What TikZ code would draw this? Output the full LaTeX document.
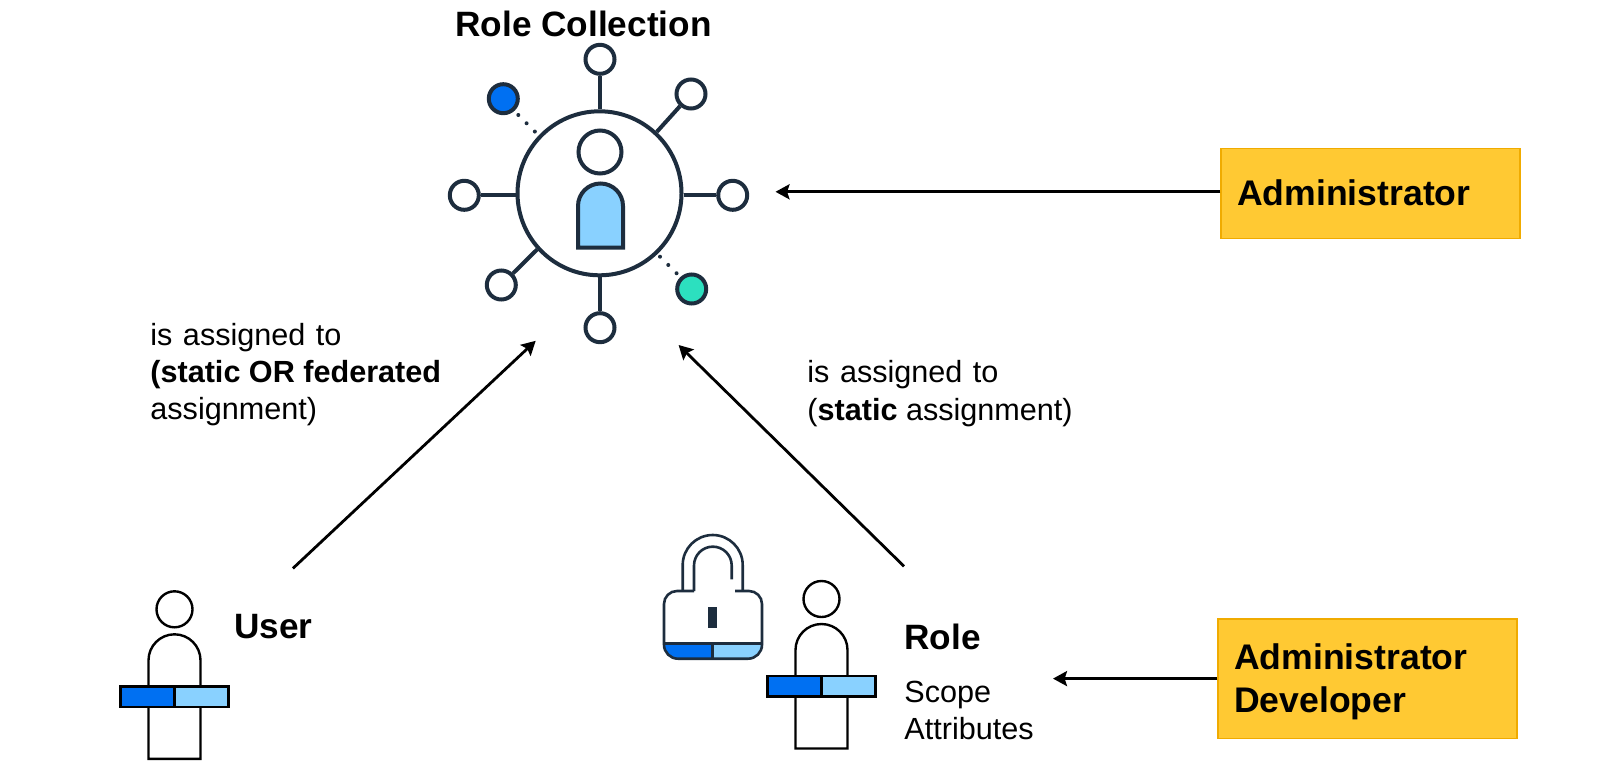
\documentclass[tikz,border=0pt]{standalone}
\usepackage{fontspec}
\setmainfont{Liberation Sans}
\usetikzlibrary{arrows.meta}
\definecolor{ink}{HTML}{1D2D3E}
\definecolor{sapblue}{HTML}{0070F2}
\definecolor{sky}{HTML}{89D1FF}
\definecolor{teal}{HTML}{2CE0BF}
\definecolor{gold}{HTML}{FFC933}
\definecolor{goldline}{HTML}{F0AB00}
\newcommand{\personicon}[3]{%
  \draw[bodyline] (#1-26,#2+124.5) -- (#1-26,#2+26) arc[start angle=180,end angle=360,radius=26] -- (#1+26,#2+124.5) -- cycle;
  \node[headcirc] (#3head) at (#1,#2-25) {};
  \draw[bodyline,fill=sapblue] (#1-54,#2+52) rectangle (#1,#2+72.5);
  \draw[bodyline,fill=sky] (#1,#2+52) rectangle (#1+54,#2+72.5);
}
\tikzset{
  x=0.5pt,y=-0.5pt,
  bodyline/.style={draw=black,line width=1.2pt,fill=white},
  headcirc/.style={circle,draw=black,line width=1.2pt,fill=white,minimum size=18pt,inner sep=0pt},
  sat/.style={circle,draw=ink,line width=2pt,fill=white,minimum size=14.5pt,inner sep=0pt},
  spoke/.style={draw=ink,line width=2pt},
  dots/.style={draw=ink,line width=2pt,line cap=round,dash pattern=on 0pt off 5.85pt},
  conn/.style={draw=black,line width=1.4pt,-{Stealth[length=7pt,width=7.5pt,inset=1.2pt]}},
  goldbox/.style={draw=goldline,line width=0.6pt,fill=gold,inner sep=0pt,anchor=north west},
  lockline/.style={draw=ink,line width=1.3pt},
  head/.style={font=\fontsize{17.6}{20}\selectfont\bfseries,inner sep=0pt,anchor=base west},
  boxtext/.style={font=\fontsize{17.8}{20}\selectfont\bfseries,inner sep=0pt,anchor=base west},
  body/.style={font=\fontsize{15.3}{20}\selectfont,inner sep=0pt,anchor=base west},
}
\begin{document}
\begin{tikzpicture}
\useasboundingbox (0,0) rectangle (1600,771);
% hub
\node[circle,draw=ink,line width=2pt,fill=white,minimum size=82pt,inner sep=0pt] (hub) at (599.5,193.3) {};
\node[sat] (n) at (600,59.3) {};
\node[sat] (ne) at (691,94) {};
\node[sat] (e) at (732.7,195.3) {};
\node[sat,fill=teal] (se) at (691.7,289) {};
\node[sat] (s) at (600,327.7) {};
\node[sat] (sw) at (501.3,285) {};
\node[sat] (w) at (464.3,195.3) {};
\node[sat,fill=sapblue] (nw) at (503.3,98.7) {};
\draw[spoke] (hub.north -| n) -- (n);
\draw[spoke] (hub.47) -- (ne);
\draw[spoke] (hub.east |- e) -- (e);
\draw[spoke] (hub.south -| s) -- (s);
\draw[spoke] (hub.222.5) -- (sw);
\draw[spoke] (hub.west |- w) -- (w);
\coordinate (nwa) at (518.3,115);
\coordinate (nwb) at (535.2,131.9);
\coordinate (sea) at (660,256.7);
\coordinate (seb) at (676.9,273.6);
\draw[dots] (nwa) -- (nwb);
\draw[dots] (sea) -- (seb);
\node[circle,draw=ink,line width=2pt,fill=white,minimum size=21.5pt,inner sep=0pt] (hubhead) at (600,152) {};
\draw[draw=ink,line width=2pt,fill=sky] (578,247.5) -- (578,206) arc[start angle=180,end angle=360,radius=22.5] -- (623,247.5) -- cycle;
\node[head] (rc) at (455,36) {Role Collection};
% boxes
\node[goldbox,minimum width=149.5pt,minimum height=44.9pt] (admin) at (1220.4,148) {};
\node[boxtext] (admintxt) at (1236.7,205) {Administrator};
\node[goldbox,minimum width=149.5pt,minimum height=59.7pt] (dev) at (1217.3,618.4) {};
\node[boxtext] (devtxt1) at (1233.7,669) {Administrator};
\node[boxtext] (devtxt2) at (1233.7,712) {Developer};
% connectors
\coordinate (adminend) at (775.5,191.8);
\coordinate (devend) at (1053,678.6);
\coordinate (ustart) at (292.9,568.4);
\coordinate (uend) at (535.7,340.8);
\coordinate (rstart) at (904,566.3);
\coordinate (rend) at (678.6,345);
\draw[conn] (admin.west |- adminend) -- (adminend);
\draw[conn] (dev.west |- devend) -- (devend);
\draw[conn] (ustart) -- (uend);
\draw[conn] (rstart) -- (rend);
% labels
\node[body] (l1) at (150,345) {is\hspace{1pt} assigned\hspace{1pt} to};
\node[body,font=\fontsize{15.3}{20}\selectfont\bfseries] (l2) at (150,382.7) {(static OR federated};
\node[body] (l3) at (150,419.4) {assignment)};
\node[body] (r1) at (807,382.7) {is\hspace{1pt} assigned\hspace{1pt} to};
\node[body] (r2) at (807,420.4) {(\textbf{static} assignment)};
\node[head] (ulabel) at (233.7,638.8) {User};
\node[head] (rlabel) at (904,649) {Role};
\node[body] (sc) at (904,702) {Scope};
\node[body] (at) at (904,739) {Attributes};
% persons
\personicon{174.5}{634.3}{u}
\personicon{821.5}{624}{r}
% lock
\draw[lockline] (682.7,591) -- (682.7,565) arc[start angle=180,end angle=360,radius=30] -- (742.7,591);
\draw[lockline] (694,591) -- (694,565.5) arc[start angle=180,end angle=360,radius=18.85] -- (731.7,579.3);
\path[fill=sapblue] (664,643.3) -- (664,644.7) arc[start angle=180,end angle=90,radius=14] -- (712.7,658.7) -- (712.7,643.3) -- cycle;
\path[fill=sky] (762,643.3) -- (762,644.7) arc[start angle=0,end angle=90,radius=14] -- (712.7,658.7) -- (712.7,643.3) -- cycle;
\draw[lockline] (694,591) -- (677,591) arc[start angle=270,end angle=180,radius=13] -- (664,644.7) arc[start angle=180,end angle=90,radius=14] -- (748,658.7) arc[start angle=90,end angle=0,radius=14] -- (762,604) arc[start angle=360,end angle=270,radius=13] -- (735,591);
\draw[lockline] (664,643.3) -- (762,643.3) (712.7,643.3) -- (712.7,658.7);
\fill[ink] (708.3,606.7) rectangle (717.3,628.3);
\end{tikzpicture}
\end{document}
